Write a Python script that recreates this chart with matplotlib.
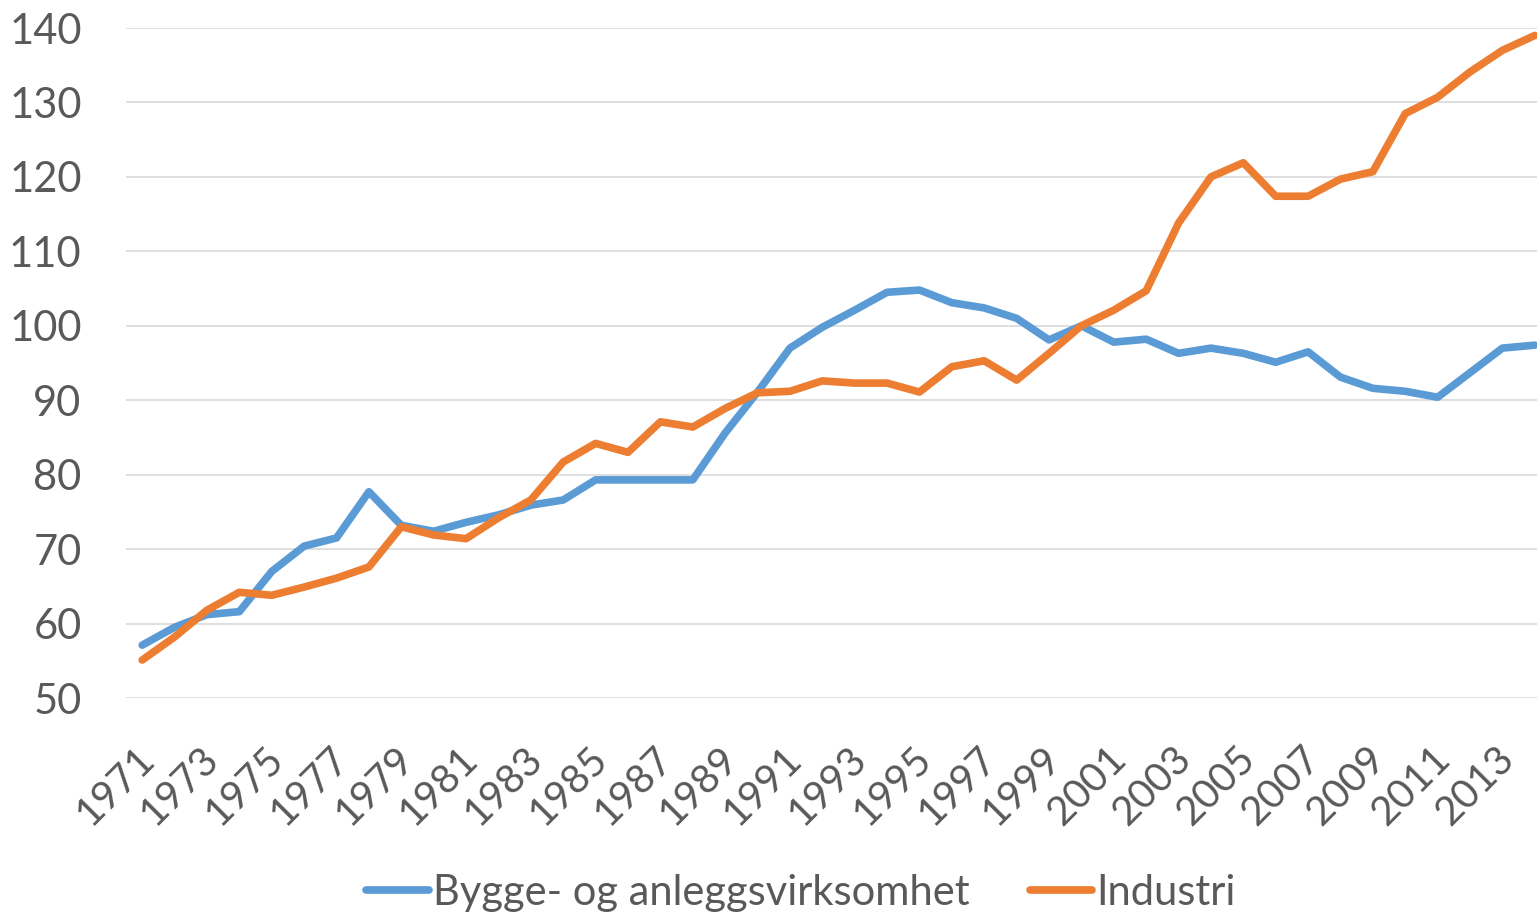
import numpy as np
import matplotlib
matplotlib.use('Agg')
import matplotlib.pyplot as plt
import matplotlib.transforms as mtransforms

plt.rcParams['font.family'] = ['Lato', 'DejaVu Sans']

# data (index, 2000 = 100)
years = list(range(1971, 2015))
bygg = [57.1, 59.5, 61.2, 61.6, 67.0, 70.4, 71.5, 77.7, 73.2, 72.4,
        73.6, 74.6, 75.9, 76.6, 79.3, 79.3, 79.3, 79.3, 85.6, 91.1,
        97.0, 99.8, 102.1, 104.5, 104.8, 103.1, 102.4, 101.0, 98.1, 100.0,
        97.8, 98.2, 96.3, 97.0, 96.3, 95.1, 96.5, 93.1, 91.6, 91.2,
        90.4, 93.7, 97.0, 97.4]
industri = [55.1, 58.2, 61.8, 64.2, 63.8, 64.9, 66.1, 67.6, 73.0, 71.9,
            71.4, 74.2, 76.6, 81.7, 84.2, 83.0, 87.1, 86.4, 88.9, 91.0,
            91.2, 92.6, 92.3, 92.3, 91.1, 94.5, 95.3, 92.7, 96.3, 100.0,
            102.1, 104.7, 113.8, 120.0, 121.9, 117.4, 117.4, 119.7, 120.7, 128.5,
            130.7, 134.1, 137.0, 139.0]
series_names = ['Bygge- og anleggsvirksomhet', 'Industri']
yticks = list(range(50, 150, 10))
xtick_years = years[::2]

text_col = '#595959'

fig = plt.figure(figsize=(15.37, 9.16), dpi=100)
ax = fig.add_axes([126/1537, 1-698/916, 1425/1537, 670/916])

ax.plot(years, bygg, color='#5B9BD5', lw=5.5, solid_capstyle='round',
        solid_joinstyle='round', label=series_names[0], zorder=3)
ax.plot(years, industri, color='#ED7D31', lw=5.5, solid_capstyle='round',
        solid_joinstyle='round', label=series_names[1], zorder=4)

ax.set_xlim(1970.5, 2014.5)
ax.set_ylim(50, 140)
ax.set_yticks(yticks)
ax.set_xticks(xtick_years)
ax.set_xticklabels([str(y) for y in xtick_years], rotation=45, ha='right',
                   rotation_mode='anchor')
ax.tick_params(axis='y', length=0, pad=32, labelsize=30, labelcolor=text_col)
ax.tick_params(axis='x', length=0, pad=30, labelsize=29, labelcolor=text_col)

# nudge the rotated year labels a bit to the left
shift = mtransforms.ScaledTranslation(-7/100, 0, fig.dpi_scale_trans)
for lbl in ax.get_xticklabels():
    lbl.set_transform(lbl.get_transform() + shift)

ax.grid(axis='y', color='#D9D9D9', lw=1.2, zorder=0)
ax.set_axisbelow(True)
for s in ax.spines.values():
    s.set_visible(False)

fig.legend(loc='center', bbox_to_anchor=(801/1537, 1-893/916), ncol=2,
           frameon=False, fontsize=30, handlelength=1.5, handletextpad=0.1,
           columnspacing=1.45, labelcolor=text_col)

fig.savefig('out.png', dpi=100)
